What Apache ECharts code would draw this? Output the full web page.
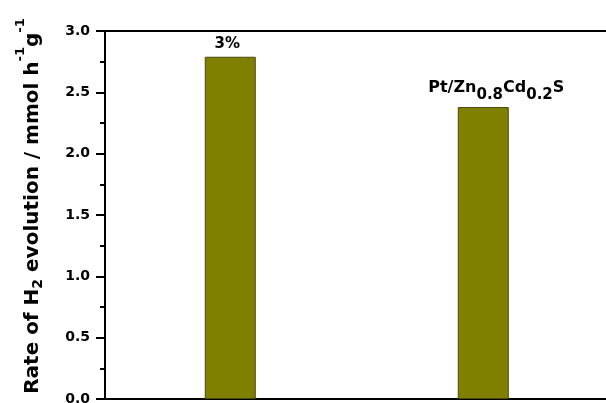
<!DOCTYPE html>
<html>
<head>
<meta charset="utf-8">
<script src="https://cdn.jsdelivr.net/npm/echarts@6/dist/echarts.min.js"></script>
<style>
  html, body { margin: 0; padding: 0; background: #fff; }
  #chart { width: 606px; height: 403px; }
</style>
</head>
<body>
<div id="chart"></div>
<script>
// Photocatalytic H2 evolution rates of two samples
const categories = ['3%', 'Pt/Zn0.8Cd0.2S'];
const rates = [2.79, 2.38];
const yTicks = { min: 0, max: 3, interval: 0.5 };

const FONT = '"DejaVu Sans", sans-serif';

// Bar labels with chemical subscripts
const barLabels = [
  '{n|3%}',
  '{n|Pt/Zn}{s|0.8}{n|Cd}{s|0.2}{n|S}'
];

// Samples sit at positions 1 and 2 along a numeric x range
const xRange = { min: 0.505, max: 2.485 };

const chart = echarts.init(document.getElementById('chart'), null, { renderer: 'canvas' });

chart.setOption({
  animation: false,
  backgroundColor: '#fff',
  grid: { left: 105, top: 31, bottom: 4, right: 0, outerBoundsMode: 'none', containLabel: false },
  xAxis: [{
    type: 'value',
    min: xRange.min,
    max: xRange.max,
    position: 'bottom',
    axisLine: { show: true, onZero: false, lineStyle: { color: '#000', width: 2 } },
    axisTick: { show: false },
    axisLabel: { show: false },
    splitLine: { show: false }
  }, {
    type: 'value',
    min: xRange.min,
    max: xRange.max,
    position: 'top',
    axisLine: { show: true, onZero: false, lineStyle: { color: '#000', width: 2 } },
    axisTick: { show: false },
    axisLabel: { show: false },
    splitLine: { show: false }
  }],
  yAxis: {
    type: 'value',
    min: yTicks.min,
    max: yTicks.max,
    interval: yTicks.interval,
    name: '{n|Rate of H}{sub|2}{n| evolution / mmol h}{sup|-1}{n|g}{sup|-1}',
    nameLocation: 'middle',
    nameGap: 72,
    nameRotate: 90,
    nameTextStyle: {
      padding: [0, 0, 0, 18],
      rich: {
        n: { fontFamily: FONT, fontWeight: 'bold', fontSize: 20, lineHeight: 20, padding: [10, 0, 0, 0], verticalAlign: 'top', color: '#000' },
        sub: { fontFamily: FONT, fontWeight: 'bold', fontSize: 14, lineHeight: 14, padding: [18, 0, 0, 0], verticalAlign: 'top', color: '#000' },
        sup: { fontFamily: FONT, fontWeight: 'bold', fontSize: 13, lineHeight: 13, padding: [1, 0, 0, 0], verticalAlign: 'top', color: '#000' }
      }
    },
    axisLine: { show: true, lineStyle: { color: '#000', width: 2 } },
    axisTick: { show: true, inside: false, length: 9, lineStyle: { color: '#000', width: 2 } },
    minorTick: { show: true, splitNumber: 2, length: 5, lineStyle: { color: '#000', width: 2 } },
    splitLine: { show: false },
    axisLabel: {
      margin: 15,
      fontFamily: FONT,
      fontWeight: 'bold',
      fontSize: 14,
      color: '#000',
      formatter: v => v.toFixed(1)
    }
  },
  series: [{
    type: 'bar',
    barWidth: 51,
    data: rates.map((v, i) => ({
      value: [i + 1, v],
      name: categories[i],
      label: {
        show: true,
        position: 'top',
        distance: i === 0 ? 4 : 11,
        offset: i === 0 ? [-3, 0] : [13, 0],
        formatter: barLabels[i],
        rich: {
          n: { fontFamily: FONT, fontWeight: 'bold', fontSize: i === 0 ? 15 : 16, lineHeight: 16, verticalAlign: 'top', color: '#000' },
          s: { fontFamily: FONT, fontWeight: 'bold', fontSize: 15, lineHeight: 15, padding: [8, 0, 0, 0], verticalAlign: 'top', color: '#000' }
        }
      }
    })),
    itemStyle: { color: '#808000', borderColor: '#4a4a10', borderWidth: 1 }
  }]
});
</script>
</body>
</html>
